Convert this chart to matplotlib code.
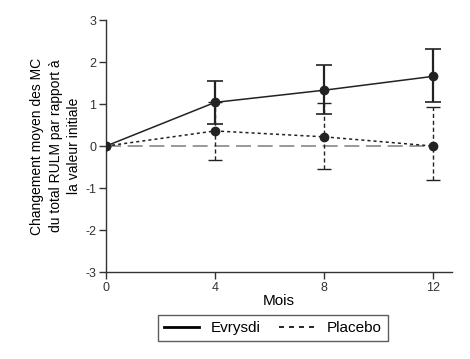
import matplotlib.pyplot as plt
from matplotlib.lines import Line2D

plt.rcParams['font.family'] = ['Liberation Sans', 'DejaVu Sans']
plt.rcParams['axes.unicode_minus'] = False

months = [0, 4, 8, 12]
evrysdi = [0, 1.04, 1.33, 1.66]
evrysdi_lo = [0, 0.53, 0.77, 1.05]
evrysdi_hi = [0, 1.54, 1.92, 2.32]
placebo = [0, 0.36, 0.22, 0.0]
placebo_lo = [0, -0.34, -0.55, -0.82]
placebo_hi = [0, 1.06, 1.02, 0.92]

col = '#222222'

fig = plt.figure(figsize=(4.7, 3.59), dpi=100)
ax = fig.add_axes([0.2255, 0.2423, 0.7365, 0.7017])

# reference line at 0
ax.plot([0, 12], [0, 0], color='#888888', lw=1.2, dashes=(9, 4), zorder=1)

# placebo
ax.plot(months, placebo, color=col, lw=1.1, dashes=(2, 2), marker='o', ms=6, zorder=3)
eb = ax.errorbar(months[1:], placebo[1:],
                 yerr=[[p - l for p, l in zip(placebo[1:], placebo_lo[1:])],
                       [h - p for p, h in zip(placebo[1:], placebo_hi[1:])]],
                 fmt='none', ecolor=col, elinewidth=1.0, capsize=5, capthick=1.0, zorder=2)
eb[2][0].set_linestyle((0, (3, 2)))

# evrysdi
ax.plot(months, evrysdi, color=col, lw=1.1, marker='o', ms=6, zorder=4)
ax.errorbar(months[1:], evrysdi[1:],
            yerr=[[e - l for e, l in zip(evrysdi[1:], evrysdi_lo[1:])],
                  [h - e for e, h in zip(evrysdi[1:], evrysdi_hi[1:])]],
            fmt='none', ecolor=col, elinewidth=1.6, capsize=6, capthick=1.2, zorder=4)

ax.set_xlim(0, 12.7)
ax.set_ylim(-3, 3)
ax.set_xticks(months)
ax.set_yticks([-3, -2, -1, 0, 1, 2, 3])
ax.spines['top'].set_visible(False)
ax.spines['right'].set_visible(False)
for s in ['left', 'bottom']:
    ax.spines[s].set_color('#333333')
    ax.spines[s].set_linewidth(1.0)
ax.tick_params(direction='out', length=5, width=1, color='#333333', labelsize=9,
               labelcolor='#333333', pad=2)
ax.set_xlabel('Mois', fontsize=11, labelpad=0)
ax.set_ylabel('Changement moyen des MC\ndu total RULM par rapport à\nla valeur initiale',
              fontsize=10, labelpad=3, linespacing=1.4)

handles = [Line2D([], [], color='black', lw=2),
           Line2D([], [], color='black', lw=1.2, dashes=(3, 3))]
fig.legend(handles, ['Evrysdi', 'Placebo'], loc='center', bbox_to_anchor=(0.58, 0.086),
           ncol=2, frameon=True, fancybox=False, edgecolor='#333333', fontsize=11,
           handlelength=2.3, columnspacing=1.2, borderpad=0.4)

fig.savefig('out.png', dpi=100)
